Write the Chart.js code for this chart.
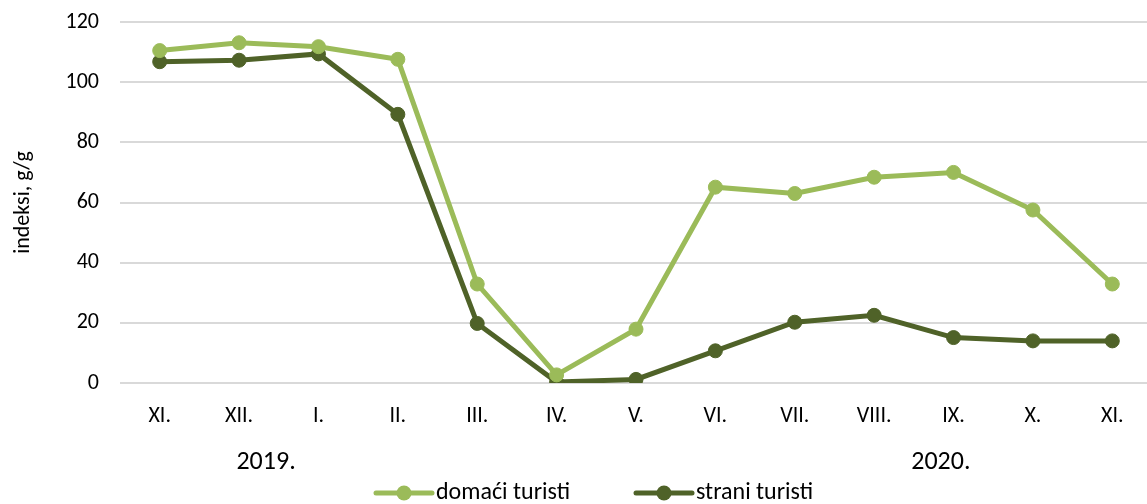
<!DOCTYPE html>
<html>
<head>
<meta charset="utf-8">
<script src="https://cdn.jsdelivr.net/npm/chart.js@4/dist/chart.umd.min.js"></script>
<style>
    html, body { margin: 0; padding: 0; background: #fff; overflow: hidden; }
    #wrap { width: 1147px; height: 504px; overflow: hidden; }
    canvas { display: block; }
</style>
</head>
<body>
<div id="wrap"><canvas id="touristChart" width="1160" height="504"></canvas></div>
<script>
const months = ['XI.', 'XII.', 'I.', 'II.', 'III.', 'IV.', 'V.', 'VI.', 'VII.', 'VIII.', 'IX.', 'X.', 'XI.'];
const domaci = [110.5, 113.1, 111.8, 107.6, 32.9, 2.7, 17.9, 65.1, 63.0, 68.4, 70.0, 57.5, 32.9];
const strani = [106.8, 107.3, 109.4, 89.3, 19.8, 0.3, 1.2, 10.7, 20.2, 22.5, 15.1, 14.0, 14.0];
const years = ['2019.', '2020.'];
const yTitle = 'indeksi, g/g';

const LIGHT = '#9bbb59';
const DARK = '#4f6228';
const FONT = "Carlito, Lato, 'Open Sans', sans-serif";

// year captions under the month ticks, drawn with the x scale
const yearAnchors = [1.34, 9.84];

const extraLabels = {
    id: 'extraLabels',
    afterDraw(chart) {
        const ctx = chart.ctx;
        const x = chart.scales.x;
        const step = (x.right - x.left) / months.length;

        ctx.save();
        ctx.fillStyle = '#000';
        ctx.textAlign = 'center';
        ctx.textBaseline = 'middle';
        ctx.font = `26px ${FONT}`;
        years.forEach((y, i) => {
            ctx.fillText(y, x.left + (yearAnchors[i] + 0.5) * step, 462);
        });

        // legend: line sample with a dot in the middle
        const starts = [376, 636];
        const ly = 493;
        ctx.font = `24px ${FONT}`;
        ctx.textAlign = 'left';
        chart.data.datasets.forEach((ds, i) => {
            const sx = starts[i];
            ctx.strokeStyle = ds.borderColor;
            ctx.lineWidth = 5;
            ctx.lineCap = 'round';
            ctx.beginPath();
            ctx.moveTo(sx, ly);
            ctx.lineTo(sx + 56, ly);
            ctx.stroke();
            ctx.fillStyle = ds.pointBackgroundColor;
            ctx.beginPath();
            ctx.arc(sx + 28, ly, 7.5, 0, Math.PI * 2);
            ctx.fill();
            ctx.fillStyle = '#000';
            ctx.fillText(ds.label, sx + 60, ly);
        });
        ctx.restore();
    }
};

new Chart(document.getElementById('touristChart'), {
    type: 'line',
    data: {
        labels: months,
        datasets: [
            {
                label: 'domaći turisti',
                data: domaci,
                borderColor: LIGHT,
                backgroundColor: LIGHT,
                pointBackgroundColor: LIGHT,
                pointBorderColor: LIGHT,
                borderWidth: 5,
                pointRadius: 7,
                pointBorderWidth: 1,
                tension: 0
            },
            {
                label: 'strani turisti',
                data: strani,
                borderColor: DARK,
                backgroundColor: DARK,
                pointBackgroundColor: DARK,
                pointBorderColor: DARK,
                borderWidth: 5,
                pointRadius: 7,
                pointBorderWidth: 1,
                tension: 0
            }
        ]
    },
    options: {
        responsive: false,
        animation: false,
        layout: { padding: { top: 22, right: 0, bottom: 0, left: 0 } },
        plugins: {
            legend: { display: false },
            tooltip: { enabled: false }
        },
        scales: {
            x: {
                offset: true,
                grid: { display: false, drawTicks: false },
                border: { display: false },
                ticks: {
                    color: '#000',
                    font: { family: FONT, size: 22 },
                    padding: 20,
                    maxRotation: 0,
                    autoSkip: false
                },
                afterFit(scale) { scale.height = 121; }
            },
            y: {
                min: 0,
                max: 120,
                // invisible tick marks push the labels away from the plot
                grid: {
                    color: '#d9d9d9',
                    lineWidth: 2,
                    drawTicks: true,
                    tickLength: 21,
                    tickColor: 'rgba(0,0,0,0)'
                },
                border: { display: false },
                ticks: {
                    stepSize: 20,
                    color: '#000',
                    font: { family: FONT, size: 22 },
                    padding: 0
                },
                title: {
                    display: true,
                    text: yTitle,
                    color: '#000',
                    font: { family: FONT, size: 22 },
                    padding: { top: 10, bottom: 0 }
                },
                afterFit(scale) { scale.width = 120; }
            }
        }
    },
    plugins: [extraLabels]
});
</script>
</body>
</html>
